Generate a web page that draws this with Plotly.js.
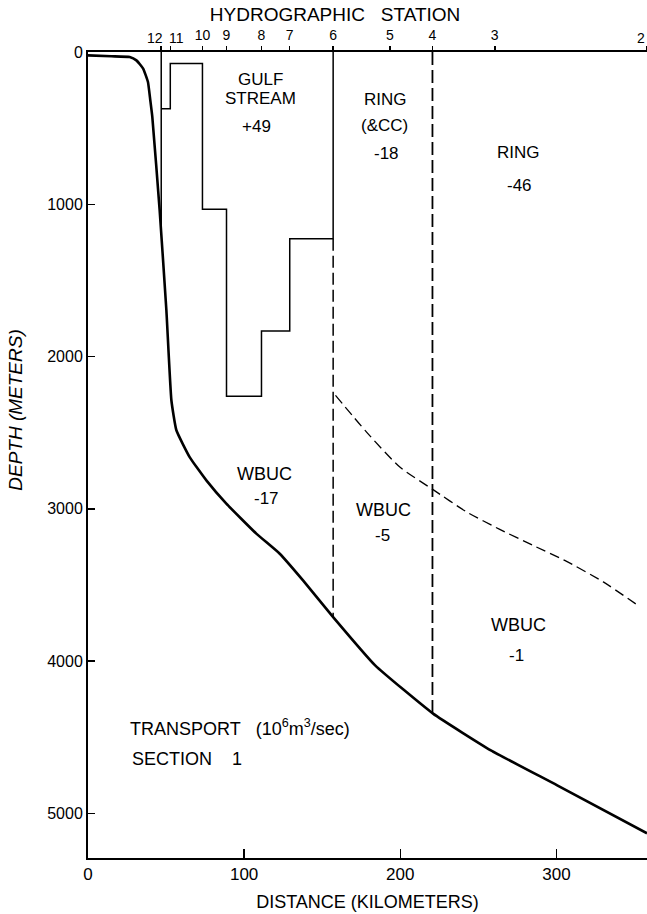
<!DOCTYPE html>
<html><head><meta charset="utf-8">
<script src="https://cdn.plot.ly/plotly-3.0.1.min.js"></script>
<style>html,body{margin:0;padding:0;background:#fff}</style>
</head><body><div id="chart" style="width:647px;height:914px"></div>
<script>
// Hydrographic stations (label, distance km)
const stationLabels = ["12","11","10","9","8","7","6","5","4","3","2"];
const stationKm = [46.9, 52.7, 73.3, 88.7, 111.1, 129.2, 157.0, 193.3, 220.6, 260.5, 357.7];

// Bottom topography (km, m)
const bottomKm =    [0,  15, 26.7, 31, 35.3, 38.4, 39.9, 41.2, 45.9, 50.2, 53.4, 56.6, 65.1, 75.8, 88.6, 107.8, 122.8, 137.7, 157.0, 183.9, 221.0, 258.0, 300.5, 358.0];
const bottomDepth = [22, 28, 33,   55, 109,  197,  317,  427,  1040, 1696, 2287, 2484, 2660, 2813, 2966, 3163,  3295,  3470,  3711,  4028,  4345,  4586,  4816,  5131];

// Gulf Stream boundary: station index and depth (m) at each vertex
const gsStation = [0, 1, 1, 2, 2, 3, 3, 4, 4, 5, 5, 6, 6];
const gsDepth   = [372, 372, 76, 76, 1033, 1033, 2261, 2261, 1832, 1832, 1226, 1226, 0];

// Station 12 line, station 6 dashed extension, station 4 dashed line (depth ranges)
const st12Depth = [0, 1200];
const st6Depth = [1226, 3711];
const st4Depth = [0, 4345];

// WBUC upper boundary (dashed)
const wbucKm =    [158.5, 178.4, 199.7, 221.0, 242.4, 263.7, 285.0, 306.5, 330.0, 353.0];
const wbucDepth = [2255,  2496,  2726,  2874,  3020,  3135,  3240,  3345,  3480,  3640];

const xTicks = [0, 100, 200, 300];
const yTicks = [0, 1000, 2000, 3000, 4000, 5000];

const K = "#000";
const FONT = "Liberation Sans, Arial, sans-serif";
const NB = "\u00a0";

// stations whose labels sit on the axis normally (10 ... 3) and those labelled beside their ticks (12, 11, 2)
const midIdx = [2, 3, 4, 5, 6, 7, 8, 9];
const edgeIdx = [0, 1, 10];

const traces = [
  {x: bottomKm, y: bottomDepth, mode: "lines", line: {color: K, width: 2.6, shape: "spline", smoothing: 0.4}, hoverinfo: "skip", name: "bottom"},
  {x: gsStation.map(i => stationKm[i]), y: gsDepth, mode: "lines", xaxis: "x2", line: {color: K, width: 1.5}, hoverinfo: "skip", name: "Gulf Stream"},
  {x: [stationKm[0], stationKm[0]], y: st12Depth, mode: "lines", xaxis: "x3", line: {color: K, width: 1.5}, hoverinfo: "skip", name: "st12"},
  {x: [stationKm[6], stationKm[6]], y: st6Depth, mode: "lines", line: {color: K, width: 1.5, dash: "12px,5px"}, hoverinfo: "skip", name: "st6"},
  {x: [stationKm[8], stationKm[8]], y: st4Depth, mode: "lines", line: {color: K, width: 1.8, dash: "13px,5px"}, hoverinfo: "skip", name: "st4"},
  {x: wbucKm, y: wbucDepth, mode: "lines", line: {color: K, width: 1.3, dash: "10px,5px", shape: "spline", smoothing: 0.6}, hoverinfo: "skip", name: "WBUC"}
];

function ann(x, y, text, extra) {
  return Object.assign({x: x, y: y, xref: "x", yref: "y", text: text, showarrow: false,
    font: {family: FONT, size: 17, color: K}, xanchor: "center", yanchor: "middle"}, extra || {});
}
function stLab(i, dx, anchor) {
  return {x: stationKm[i] + dx, y: 1.0174, xref: "x", yref: "paper", text: stationLabels[i], showarrow: false,
          xanchor: anchor, yanchor: "middle", font: {family: FONT, size: 14, color: K}};
}

const axCommon = {showgrid: false, zeroline: false, tickangle: 0, tickcolor: K, tickwidth: 1.5,
                  showline: true, linecolor: K, linewidth: 2};

const layout = {
  width: 647, height: 914,
  margin: {l: 88, r: 0, t: 52, b: 56, pad: 0},
  paper_bgcolor: "#fff", plot_bgcolor: "#fff",
  showlegend: false,
  font: {family: FONT, color: K, size: 15},
  title: {text: "HYDROGRAPHIC" + NB + NB + NB + "STATION", font: {family: FONT, size: 19, color: K},
          x: 0.442, xref: "paper", xanchor: "center", y: 0.984, yref: "container", yanchor: "middle"},
  xaxis: Object.assign({}, axCommon, {range: [0, 358], tickvals: xTicks, ticks: "inside", ticklen: 9,
          tickfont: {size: 17}, title: {text: "DISTANCE (KILOMETERS)", font: {size: 18}, standoff: 12}}),
  xaxis2: Object.assign({}, axCommon, {overlaying: "x", side: "top", range: [0, 358],
           tickvals: midIdx.map(i => stationKm[i]), ticktext: midIdx.map(i => stationLabels[i]),
           ticks: "outside", ticklen: 4, tickfont: {size: 14}}),
  xaxis3: Object.assign({}, axCommon, {overlaying: "x", side: "top", range: [0, 358],
           tickvals: edgeIdx.map(i => stationKm[i]), showticklabels: false,
           ticks: "outside", ticklen: 4}),
  yaxis: Object.assign({}, axCommon, {range: [5293, 0], tickvals: yTicks, ticks: "inside", ticklen: 7,
          tickfont: {size: 16}}),
  annotations: [
    stLab(0, 2.1, "right"), stLab(1, -2.4, "left"), stLab(10, 0.3, "right"),
    {x: -0.129, y: 0.556, xref: "paper", yref: "paper", text: "DEPTH (METERS)", textangle: -90, showarrow: false,
     xanchor: "center", yanchor: "middle", font: {family: FONT, size: 19, color: K, style: "italic"}},
    ann(110.6, 182, "GULF"), ann(110.6, 306, "STREAM"), ann(108, 492, "+49"),
    ann(190.8, 311, "RING"), ann(190.2, 481, "(&CC)"), ann(191.2, 667, "-18"),
    ann(275.5, 659, "RING"), ann(276.5, 875, "-46"),
    ann(113.2, 2769, "WBUC", {font: {family: FONT, size: 18, color: K}}), ann(114.2, 2933, "-17"),
    ann(189.0, 3010, "WBUC", {font: {family: FONT, size: 18, color: K}}), ann(188.6, 3174, "-5"),
    ann(275.6, 3765, "WBUC", {font: {family: FONT, size: 18, color: K}}), ann(274.6, 3962, "-1"),
    ann(25.4, 4433, "TRANSPORT" + NB + NB + NB + "(10<sup>6</sup>m<sup>3</sup>/sec)", {xanchor: "left", font: {family: FONT, size: 18, color: K}}),
    ann(26.7, 4641, "SECTION" + NB + NB + NB + NB + "1", {xanchor: "left", font: {family: FONT, size: 18, color: K}})
  ]
};

Plotly.newPlot("chart", traces, layout, {displayModeBar: false, staticPlot: true});
</script></body></html>
